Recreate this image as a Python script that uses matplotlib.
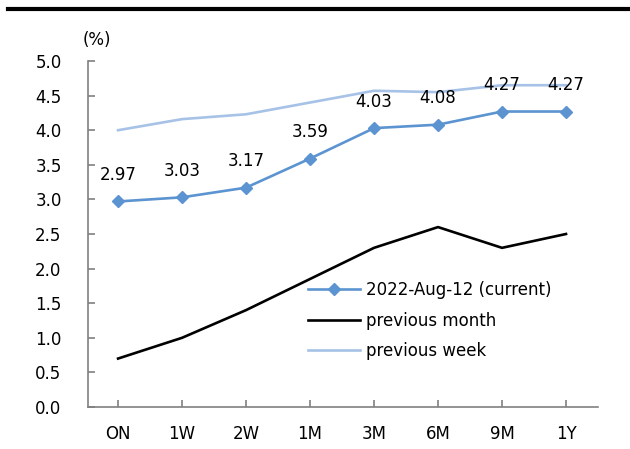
import matplotlib.pyplot as plt
from matplotlib.lines import Line2D

# tenors and yields (%)
tenors = ['ON', '1W', '2W', '1M', '3M', '6M', '9M', '1Y']
current = [2.97, 3.03, 3.17, 3.59, 4.03, 4.08, 4.27, 4.27]
prev_month = [0.70, 1.00, 1.40, 1.85, 2.30, 2.60, 2.30, 2.50]
prev_week = [4.00, 4.16, 4.23, 4.40, 4.57, 4.55, 4.65, 4.65]
yticks = [0.0, 0.5, 1.0, 1.5, 2.0, 2.5, 3.0, 3.5, 4.0, 4.5, 5.0]

plt.rcParams['font.family'] = ['DejaVu Sans']
plt.rcParams['font.size'] = 12

fig = plt.figure(figsize=(6.3, 4.49), dpi=100)
ax = fig.add_axes([88 / 630, 1 - 407 / 449, 510 / 630, (407 - 61) / 449])

x = list(range(len(tenors)))

# draw lines
ax.plot(x, prev_week, color='#a7c2e7', lw=1.9, label='previous week', zorder=2)
ax.plot(x, prev_month, color='black', lw=1.9, label='previous month', zorder=2)
ax.plot(x, current, color='#5b94d0', lw=1.9, marker='D', markersize=6,
        label='2022-Aug-12 (current)', zorder=3)

# value labels above the current curve
for xi, v in zip(x, current):
    ax.annotate(f'{v:.2f}', (xi, v), xytext=(0, 19), textcoords='offset points',
                ha='center', va='center', fontsize=12)

ax.set_xlim(-0.47, 7.5)
ax.set_ylim(0, 5.0)
ax.set_xticks(x)
ax.set_xticklabels(tenors)
ax.set_yticks(yticks)
ax.set_yticklabels([f'{t:.1f}' for t in yticks])

for s in ['top', 'right']:
    ax.spines[s].set_visible(False)
for s in ['left', 'bottom']:
    ax.spines[s].set_color('#808080')
    ax.spines[s].set_linewidth(1.2)
ax.tick_params(direction='in', length=5, color='#808080', width=1.2)
ax.tick_params(axis='x', pad=13)
ax.tick_params(axis='y', pad=19)

# legend in the original order
h, l = ax.get_legend_handles_labels()
ax.legend(h[::-1], l[::-1], frameon=False, loc='upper left',
          bbox_to_anchor=(293 / 630, 1 - 266 / 449), bbox_transform=fig.transFigure,
          handlelength=3.1, labelspacing=0.75, handletextpad=0.4, fontsize=12)

fig.text(97 / 630, 1 - 40 / 449, '(%)', ha='center', va='center', fontsize=12)

# thick rule across the top
fig.add_artist(Line2D([8 / 630, 1.0], [1 - 9 / 449, 1 - 9 / 449],
                      color='black', lw=3, transform=fig.transFigure))

plt.savefig('out.png', dpi=100)
